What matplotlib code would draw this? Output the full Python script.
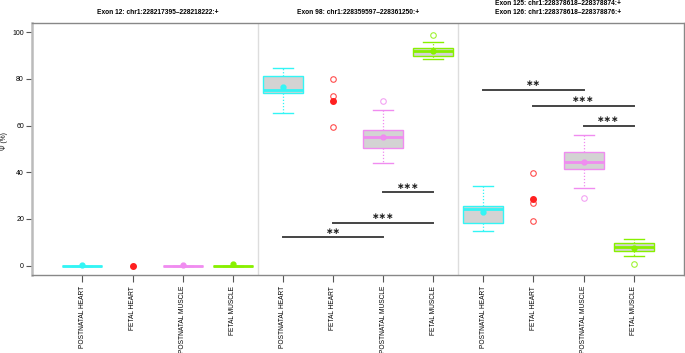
import matplotlib
matplotlib.use("Agg")
import matplotlib.pyplot as plt

plt.rcParams['font.family'] = ['Liberation Sans', 'DejaVu Sans']

# categories and colours
tissues = ["POSTNATAL HEART", "FETAL HEART", "POSTNATAL MUSCLE", "FETAL MUSCLE"]
colors = ["#33f5f5", "#ff2020", "#f08cf0", "#88f000"]
exon_titles = ["Exon 12: chr1:228217395\u2013228218222:+",
               "Exon 98: chr1:228359597\u2013228361250:+",
               "Exon 125: chr1:228378618\u2013228378874:+",
               "Exon 126: chr1:228378618\u2013228378876:+"]

# box stats per exon (4 tissues each), None = only points drawn
# (whislo, q1, med, q3, whishi, mean)
exon12 = [(0, 0, 0, 0, 0, 0.2), None, (0, 0, 0, 0, 0, 0.4), (0, 0, 0, 0, 0, 0.6)]
exon98 = [(65.3, 73.9, 75.4, 81.2, 84.9, 76.5), None,
          (43.9, 50.6, 55.2, 58.1, 66.6, 55.2),
          (88.4, 90.0, 91.8, 93.1, 95.7, 92.1)]
exon125 = [(14.8, 18.4, 24.1, 25.5, 34.1, 23.1), None,
           (33.1, 41.5, 44.4, 48.8, 56.1, 44.6),
           (4.1, 6.1, 7.8, 9.6, 11.4, 7.6)]

# outliers / single points
fliers12 = [[], [], [], []]
fliers98 = [[], [79.9, 72.6, 59.2], [70.6], [99.0]]
fliers125 = [[], [39.9, 26.7, 19.3], [29.2], [0.9]]
fetal_heart_means = [0.0, 70.6, 28.7]

# significance bars: (x1, x2, y, label)
sig98 = [(7, 8, 31.5, "***"), (6, 8, 18.3, "***"), (5, 7, 12.1, "**")]
sig125 = [(9, 11, 75.3, "**"), (10, 12, 68.6, "***"), (11, 12, 59.9, "***")]

fig = plt.figure(figsize=(6.85, 3.53), dpi=100)
ax = fig.add_axes([0.0472, 0.221, 0.951, 0.714])

groups = [(exon12, fliers12), (exon98, fliers98), (exon125, fliers125)]
labels = []
for g, (stats, fliers) in enumerate(groups):
    for i in range(4):
        pos = g * 4 + i + 1
        labels.append(tissues[i])
        c = colors[i]
        s = stats[i]
        if s is not None:
            d = dict(whislo=s[0], q1=s[1], med=s[2], q3=s[3], whishi=s[4],
                     mean=s[5], fliers=[])
            ax.bxp([d], positions=[pos], widths=0.8, patch_artist=True,
                   showmeans=True, showfliers=False,
                   boxprops=dict(facecolor="#d3d3d3", edgecolor=c, linewidth=1),
                   medianprops=dict(color=c, linewidth=2),
                   whiskerprops=dict(color=c, linestyle=(0, (1, 1.5)), linewidth=0.9),
                   capprops=dict(color=c, linewidth=1),
                   capwidths=0.4,
                   meanprops=dict(marker="o", markersize=3.5, markerfacecolor=c,
                                  markeredgecolor=c))
        else:
            ax.plot([pos], [fetal_heart_means[g]], marker="o", markersize=4,
                    color=c, linestyle="none", zorder=4)
        if fliers[i]:
            ax.plot([pos] * len(fliers[i]), fliers[i], marker="o", markersize=4,
                    markerfacecolor="none", markeredgecolor=c, markeredgewidth=0.8,
                    linestyle="none", alpha=0.8)

for x1, x2, y, lab in sig98 + sig125:
    ax.plot([x1, x2], [y, y], color="#444444", linewidth=1.4)
    ax.text((x1 + x2) / 2, y + 2.6, lab.replace("*", "\u2217"), ha="center",
            va="center", fontsize=6.5, fontweight="bold", color="#222222",
            family="DejaVu Sans")

for xs in [4.5, 8.5]:
    ax.axvline(xs, color="#dddddd", linewidth=1, zorder=0)

ax.set_xlim(0, 13)
ax.set_ylim(-4, 104)
ax.set_xticks(range(1, 13))
ax.set_xticklabels(labels, rotation=90, fontsize=4.8)
ax.set_yticks([0, 20, 40, 60, 80, 100])
ax.tick_params(axis="y", labelsize=5, length=4, pad=2, color="#555555")
ax.tick_params(axis="x", length=5, pad=3, color="#555555")
for sp in ax.spines.values():
    sp.set_color("#888888")
    sp.set_linewidth(1)
ax.spines["left"].set_color("#bbbbbb")
ax.spines["left"].set_linewidth(1.8)
fig.text(0.007, 0.6, "\u03a8 (%)", rotation=90, ha="center", va="center",
         fontsize=4.8)

fig.text(0.0472 + 0.951 * 2.5 / 13, 1 - 12 / 353, exon_titles[0], ha="center",
         va="center", fontsize=4.8, fontweight="bold")
fig.text(0.0472 + 0.951 * 6.5 / 13, 1 - 12 / 353, exon_titles[1], ha="center",
         va="center", fontsize=4.8, fontweight="bold")
fig.text(0.0472 + 0.951 * 10.5 / 13, 1 - 3.5 / 353, exon_titles[2], ha="center",
         va="center", fontsize=4.8, fontweight="bold")
fig.text(0.0472 + 0.951 * 10.5 / 13, 1 - 12 / 353, exon_titles[3], ha="center",
         va="center", fontsize=4.8, fontweight="bold")

fig.savefig("out.png", dpi=100)
